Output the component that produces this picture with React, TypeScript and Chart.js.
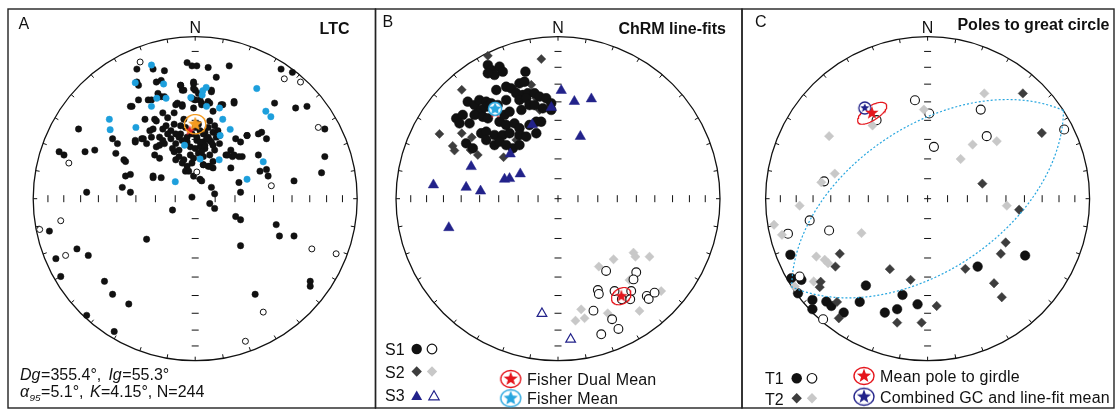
import React, { useEffect, useRef } from "react";
import { Chart, registerables } from "chart.js";

Chart.register(...registerables);

type XY = [number, number];
type Dir = { dec: number; inc: number };

// ---------------- data (projected equal-area coordinates, net radius = 100) ----------------
// Panel A: LTC
const A_MEAN = { dec: 355.4, inc: 55.3, a95: 5.1, k: 4.15, n: 244 };
const A_ALT_MEAN = { dec: 0, inc: 52, a95: 5.1 };
const A_BLACK: XY[] = [
  [-5, 84], [-2, 82], [1, 82], [8, 81], [21, 82], [-36, 80], [-26, 80], [-19, 79], [13, 75], [-24, 72],
  [-21, 73], [-9, 70], [-1, 72], [-8, 67], [0, 67], [2, 65], [10, 67], [-21, 63], [-35, 61], [-29, 61],
  [-39, 57], [3, 61], [4, 58], [8, 60], [24, 60], [49, 59], [69, 57], [62, 56], [-12, 58], [-8, 57],
  [-1, 56], [11, 54], [16, 58], [-20, 53], [-13, 53], [-31, 49], [-25, 49], [-72, 43], [80, 43], [32, 39],
  [39, 40], [41, 41], [44, 37], [25, 37], [-51, 37], [-48, 34], [-37, 35], [-33, 37], [-27, 38], [-84, 29],
  [-81, 27], [-68, 29], [-62, 30], [-49, 28], [-43, 23], [-25, 27], [-22, 25], [-12, 24], [-10, 26], [-8, 22],
  [-5, 20], [3, 28], [19, 27], [23, 26], [29, 26], [39, 27], [22, 30], [40, 17], [45, 14], [61, 11],
  [78, 16], [80, 26], [-43, 14], [-26, 13], [-21, 13], [-6, 17], [4, 11], [5, 21], [8, 20], [11, 19],
  [10, 7], [12, 3], [27, 10], [28, 4], [-2, 1], [-45, 7], [-40, 4], [-67, 4], [9, -3], [12, -6],
  [-14, -7], [25, -11], [28, -13], [28, -29], [50, -16], [52, -23], [61, -23], [-90, -20], [-30, -25], [-73, -31],
  [-66, -35], [-86, -37], [-83, -48], [-56, -51], [-51, -59], [-41, -65], [-67, -72], [-50, -82], [37, -59], [71, -51],
  [71, -54], [53, 80], [60, 78],
  [-24, 48], [-17, 50], [-13, 46], [-7, 49], [9, 48], [12, 45], [-26, 43], [-20, 43], [-15, 42], [-12, 40],
  [-9, 40], [-5, 38], [6, 41], [11, 41], [8, 38], [15, 39], [-37, 36], [-32, 37], [-22, 38], [-15, 37],
  [-10, 38], [1, 36], [5, 35], [9, 36], [3, 32], [6, 31], [11, 33], [-22, 33], [-19, 34], [-3, 32],
  [32, 39], [28, 35], [-13, 29], [2, 28], [5, 26], [20, 27], [24, 27], [27, 26], [-7, 24], [-2, 22],
  [5, 21], [9, 20], [-4, 17], [-1, 14], [3, 12], [44, 18], [22, 19], [-44, 24], [-40, 15], [-26, 14],
  [0, 44], [3, 42], [5, 40], [-2, 40], [8, 44], [2, 46], [-6, 44], [10, 35], [12, 30], [4, 29],
  [0, 31], [-8, 36], [-12, 34], [-14, 31], [-10, 30], [6, 33], [9, 27], [-3, 27], [13, 38], [15, 34],
  [-20, 36], [-24, 32], [-17, 40], [-28, 42], [-30, 34], [1, 38], [-5, 35], [7, 37], [3, 35], [-1, 25],
  [11, 23], [-9, 45], [-18, 45], [14, 42],
  [-36, 72], [-35, 70], [-9, 70], [-7, 67], [-1, 71], [-1, 68], [10, 66], [-23, 65], [-19, 63], [-27, 61],
  [-11, 59], [-8, 58], [-2, 62], [0, 61], [4, 59], [9, 59], [17, 58], [-40, 57], [24, 59],
];
const A_BLUE: XY[] = [
  [-27, 82.5], [-37, 71.6], [-19.5, 70.8], [-23.7, 62], [-18, 62], [-27, 57], [4.7, 66.7], [6.8, 68.7], [4.3, 64],
  [-2.7, 62.5], [38, 68], [15, 56], [7, 57], [-53, 49], [-52.5, 42.6], [-36.6, 44], [17, 49], [21.6, 42.8],
  [15.4, 39], [43.6, 54], [46.7, 50.6], [-6.6, 33], [3, 24.5], [14.8, 24], [42, 22.8], [32, 12], [-12.3, 10.5],
];
const A_OPEN: XY[] = [
  [-34, 84.4], [55, 74], [65, 72], [76, 44], [-78, 22], [1, 16.5], [47, 8], [-83, -13.6], [-96, -19],
  [-80, -35], [72, -31], [87, -34], [42, -70], [31, -88],
];

// Panel B: ChRM line-fits
const B_S1_FILLED: XY[] = [
  [-43.3, 82.5], [-41.2, 79.4], [-36.1, 81.5], [-34.1, 78.4], [-39.2, 76.4], [-43.3, 77.4], [-20.1, 78.4],
  [-23.8, 71.2], [-20.7, 72.2], [-38.1, 67.1], [-32, 69.1], [-28.9, 68.1], [-25.8, 65.1], [-21.7, 64],
  [-18.6, 65.1], [-14.5, 65.1], [-11.4, 63], [-7.3, 62], [-4.2, 58.9], [-4.2, 54.8], [-9.4, 55.8],
  [-23.8, 60.9], [-19.6, 62], [-17.6, 57.8], [-14.5, 57.8], [-22.6, 54.8], [-55.7, 59.9], [-51.5, 57.8],
  [-48.5, 60.9], [-44.3, 59.9], [-44.3, 56.8], [-47.4, 54.8], [-49.5, 52.7], [-41.2, 58.9], [-37.2, 57.8],
  [-32, 60.9], [-62.8, 49.6], [-58.8, 51.7], [-60.8, 46.5], [-54.6, 46.5], [-51.5, 51.7], [-46.4, 50.6],
  [-43.3, 49.6], [-36.1, 47.5], [-33, 51.7], [-29.9, 53.7], [-32, 45.5], [-26.9, 46.5], [-23.8, 43.5],
  [-17.6, 45.5], [-13.4, 47.5], [-10.4, 47.5], [-47.4, 40.4], [-44.3, 41.4], [-39.2, 39.3], [-34.1, 39.3],
  [-29.9, 40.4], [-23.8, 39.3], [-19.6, 38.3], [-13.4, 40.4], [-56.7, 34.2], [-52.6, 31.1], [-44.3, 36.2],
  [-39.2, 33.1], [-36.1, 35.2], [-32, 33.1], [-27.9, 31.1], [-23.8, 33.1],
];
const B_S1_OPEN: XY[] = [
  [29.7, -44.6], [48.3, -45.4], [46.6, -49.8], [24.6, -56.4], [25.2, -58.8], [34.9, -57], [45.2, -57],
  [39.4, -62.1], [44.6, -62.1], [54.8, -60], [56, -61.9], [59.6, -58], [21.9, -69.1], [33.4, -74.4],
  [37.3, -80.4], [26.7, -83.7],
];
const B_S2_DARK: XY[] = [
  [-43.3, 88.2], [-10.3, 86.2], [-59.4, 67.2], [-16.5, 70.3], [-13.4, 62], [-11.3, 54.8], [-73.2, 40],
  [-59.4, 40.4], [-53.2, 37.9], [-65, 32.6], [-63.9, 29.7], [-54, 30.1], [-49.5, 27], [-33.6, 25.6],
  [-25.8, 36.3], [-22.7, 40.4], [-26.8, 67.2], [-34, 46.6],
];
const B_S2_LIGHT: XY[] = [
  [34.3, -37.4], [46.6, -33.3], [47.8, -35.8], [56.5, -35.8], [25.2, -41.9], [44.1, -50.2], [63.7, -57],
  [50.3, -69.3], [30.7, -70.7], [14.3, -68.3], [10.8, -75.3], [16.4, -73.8],
];
const B_S3_FILLED: XY[] = [
  [2, 66.8], [10.1, 60], [20.6, 61.6], [-4.1, 56.3], [-15.9, 45.6], [13.8, 38.4], [-29.5, 27.6],
  [-53.6, 19.8], [-23.3, 15.3], [-33, 12], [-29.9, 12.4], [-76.9, 8.5], [-56.7, 7], [-47.8, 4.7], [-67.4, -17.9],
];
const B_S3_OPEN: XY[] = [[-9.9, -70.9], [7.8, -86.8]];
const B_DUAL_MEAN_N: Dir = { dec: 324, inc: 34.4 };
const B_DUAL_MEAN_R = { dec: 147, inc: 29, a95: 4.5 };
const B_FISHER_MEAN: Dir = { dec: 325, inc: 32.8 };

// Panel C: poles to great circle
const C_T1_FILLED: XY[] = [
  [-84.7, -34.6], [-84.1, -49.1], [-77.9, -50.1], [-80, -58.4], [-71.1, -62.5], [-71.1, -68.2], [-62.5, -63.5],
  [-59.4, -66.2], [-51.8, -70.3], [-41.9, -63.7], [-38.1, -53.6], [-26.4, -70.3], [-18.8, -68.2], [-15.5, -59.4],
  [-6.2, -65.2], [30.9, -41.9], [60.2, -35.1],
];
const C_T1_OPEN: XY[] = [
  [-7.8, 60.8], [1, 52.6], [32.8, 55], [36.5, 38.6], [3.9, 32], [84.3, 42.7], [-31.5, 48.5], [-63.9, 10.7],
  [-72.8, -13.4], [-60.8, -19.6], [-86.2, -21.6], [-79, -48], [-64.5, -74.4],
];
const C_T2_DARK: XY[] = [
  [58.8, 65], [70.5, 40.6], [33.8, 9.3], [56.5, -6.8], [48.2, -27], [45.2, -34], [23.3, -43.3], [41, -52.2],
  [45.8, -60.8], [5.6, -66.2], [-3.7, -76.5], [-18.8, -76.5], [-10.5, -50.1], [-23.3, -43.5], [-54.2, -34],
  [-56.9, -41.9], [-66, -51.3], [-66.6, -54.6], [-55.9, -63.7], [-54.8, -73.8],
];
const C_T2_LIGHT: XY[] = [
  [35, 65], [-2.3, 55], [-34, 45.2], [-60.8, 38.6], [27.8, 33.4], [42.7, 35.5], [20.4, 24.5], [-57.3, 15.5],
  [-65.6, 10.1], [-79, -4.3], [-94.8, -16.1], [-89.9, -22.3], [-40.8, -21.2], [48.9, -4.3], [-68.7, -35.7],
  [-63.5, -37.7], [-61.4, -39.8], [-70.3, -51.1], [-82, -54.2],
];
const C_GIRDLE_POLE = { dec: 327, inc: 37, major: 7.5, minor: 4 };
const C_COMBINED_MEAN: Dir = { dec: 325.3, inc: 32.4 };

const INC_TICKS = [10, 20, 30, 40, 50, 60, 70, 80];
const DEC_TICK_STEP = 10;

const TITLES = ["LTC", "ChRM line-fits", "Poles to great circle"];
const LABELS = ["A", "B", "C"];
const B_LEGEND_ROWS = ["S1", "S2", "S3"];
const B_LEGEND_MEANS = ["Fisher Dual Mean", "Fisher Mean"];
const C_LEGEND_ROWS = ["T1", "T2"];
const C_LEGEND_MEANS = ["Mean pole to girdle", "Combined GC and line-fit mean"];

// ---------------- styling ----------------
const FONT = "'Liberation Sans', Arial, Helvetica, sans-serif";
const INK = "#111111";
const BLUE = "#1d9fdc";
const NAVY = "#22228a";
const DARK = "#3d3d3d";
const LIGHT = "#c8c8c8";
const RED = "#e5161d";
const ORANGE = "#f39a1f";
const CYAN = "#27a6df";

const NET = 100;
const NET_R = 162;
const NET_CY = 198.7;
const CANVAS_TOP = 8;
const CANVAS_H = 402;
const FRAME_X = [8, 375.5, 742, 1114];
const FRAME_TOP = 9;
const FRAME_BOTTOM = 408;

// ---------------- projection helpers ----------------
const DEG = Math.PI / 180;
function eqArea(dec: number, inc: number) {
  const r = NET * Math.SQRT2 * Math.sin(((90 - Math.abs(inc)) / 2) * DEG);
  return { x: r * Math.sin(dec * DEG), y: r * Math.cos(dec * DEG) };
}
function vec(dec: number, inc: number) {
  return [Math.cos(inc * DEG) * Math.cos(dec * DEG), Math.cos(inc * DEG) * Math.sin(dec * DEG), Math.sin(inc * DEG)];
}
function dirOf(v: number[]): Dir {
  return { dec: Math.atan2(v[1], v[0]) / DEG, inc: Math.atan2(v[2], Math.hypot(v[0], v[1])) / DEG };
}
function coneLine(dec: number, inc: number, a: number, b: number, steps = 120) {
  const m = vec(dec, inc);
  const d = dec * DEG, i = inc * DEG;
  const e1 = [-Math.sin(d), Math.cos(d), 0];
  const e2 = [-Math.sin(i) * Math.cos(d), -Math.sin(i) * Math.sin(d), Math.cos(i)];
  const out: { x: number; y: number }[] = [];
  for (let k = 0; k <= steps; k++) {
    const t = (2 * Math.PI * k) / steps;
    const wa = a * DEG * Math.cos(t), wb = b * DEG * Math.sin(t);
    const th = Math.hypot(wa, wb);
    const p = [0, 1, 2].map((j) => Math.cos(th) * m[j] + (Math.sin(th) * (wa * e1[j] + wb * e2[j])) / th);
    const o = dirOf(p);
    out.push(eqArea(o.dec, o.inc));
  }
  return out;
}
function greatCircleLine(poleDec: number, poleInc: number, steps = 360) {
  const n = vec(poleDec, poleInc);
  const d = poleDec * DEG;
  const a = [-Math.sin(d), Math.cos(d), 0];
  const b = [n[1] * a[2] - n[2] * a[1], n[2] * a[0] - n[0] * a[2], n[0] * a[1] - n[1] * a[0]];
  const out: { x: number; y: number }[] = [];
  for (let k = 0; k <= steps; k++) {
    const t = (2 * Math.PI * k) / steps;
    const v = [0, 1, 2].map((j) => Math.cos(t) * a[j] + Math.sin(t) * b[j]);
    const o = dirOf(v);
    out.push(eqArea(o.dec, o.inc));
  }
  return out;
}

// ---------------- marker images ----------------
function starPath(ctx: CanvasRenderingContext2D, cx: number, cy: number, ro: number, ri: number) {
  ctx.beginPath();
  for (let k = 0; k < 10; k++) {
    const r = k % 2 === 0 ? ro : ri;
    const ang = -Math.PI / 2 + (k * Math.PI) / 5;
    const px = cx + r * Math.cos(ang), py = cy + r * Math.sin(ang);
    if (k === 0) ctx.moveTo(px, py);
    else ctx.lineTo(px, py);
  }
  ctx.closePath();
}
function starImage(fill: string, ro: number, ri: number, ring?: { color: string; rx: number; ry: number; lw: number }) {
  const half = Math.ceil(Math.max(ro, ring ? Math.max(ring.rx, ring.ry) + ring.lw : 0)) + 2;
  const c = document.createElement("canvas");
  c.width = half * 2;
  c.height = half * 2;
  const ctx = c.getContext("2d")!;
  if (ring) {
    ctx.beginPath();
    ctx.ellipse(half, half, ring.rx, ring.ry, 0, 0, Math.PI * 2);
    ctx.fillStyle = "#ffffff";
    ctx.fill();
    ctx.lineWidth = ring.lw;
    ctx.strokeStyle = ring.color;
    ctx.stroke();
  }
  starPath(ctx, half, half, ro, ri);
  ctx.fillStyle = fill;
  ctx.fill();
  return c;
}

// ---------------- dataset builders ----------------
const pts = (arr: XY[]) => arr.map(([x, y]) => ({ x, y }));
function markers(data: XY[], style: string, radius: number, fill: string, stroke: string, bw: number) {
  return {
    data: pts(data), showLine: false, pointStyle: style, pointRadius: radius, pointBackgroundColor: fill,
    pointBorderColor: stroke, pointBorderWidth: bw, clip: false,
  };
}
function lineDs(points: { x: number; y: number }[], color: string, width: number, dash: number[] = []) {
  return {
    data: points, showLine: true, pointRadius: 0, borderColor: color, borderWidth: width, borderDash: dash,
    fill: false, tension: 0, clip: false,
  };
}
function iconDs(dirs: Dir[], img: HTMLCanvasElement) {
  return { data: dirs.map((d) => eqArea(d.dec, d.inc)), showLine: false, pointStyle: img, pointRadius: 6, clip: false };
}

// ---------------- drawing helpers ----------------
type Seg = { t: string; it?: boolean; sub?: boolean };
function drawRich(ctx: CanvasRenderingContext2D, segs: Seg[], x: number, y: number, size: number) {
  let cx = x;
  for (const s of segs) {
    const fs = s.sub ? size * 0.62 : size;
    ctx.font = `${s.it ? "italic " : ""}${fs}px ${FONT}`;
    ctx.fillText(s.t, cx, y + (s.sub ? size * 0.22 : 0));
    cx += ctx.measureText(s.t).width + (s.t.length * 0.3);
  }
}
function text(ctx: CanvasRenderingContext2D, t: string, x: number, y: number, size: number, opts: { bold?: boolean; align?: CanvasTextAlign; spacing?: number } = {}) {
  ctx.font = `${opts.bold ? "bold " : ""}${size}px ${FONT}`;
  ctx.textAlign = opts.align || "left";
  (ctx as any).letterSpacing = `${opts.spacing || 0}px`;
  ctx.fillStyle = INK;
  ctx.fillText(t, x, y);
  (ctx as any).letterSpacing = "0px";
  ctx.textAlign = "left";
}
function shape(ctx: CanvasRenderingContext2D, kind: string, x: number, y: number, r: number, fill: string, stroke: string, lw: number) {
  ctx.beginPath();
  if (kind === "circle") ctx.arc(x, y, r, 0, Math.PI * 2);
  else if (kind === "diamond") {
    ctx.moveTo(x, y - r); ctx.lineTo(x + r, y); ctx.lineTo(x, y + r); ctx.lineTo(x - r, y); ctx.closePath();
  } else if (kind === "triangle") {
    for (let k = 0; k < 3; k++) {
      const a = k * (2 * Math.PI / 3);
      const px = x + Math.sin(a) * r, py = y - Math.cos(a) * r;
      if (k === 0) ctx.moveTo(px, py); else ctx.lineTo(px, py);
    }
    ctx.closePath();
  }
  ctx.fillStyle = fill;
  ctx.fill();
  if (lw > 0) { ctx.lineWidth = lw; ctx.strokeStyle = stroke; ctx.stroke(); }
}

// ---------------- panels ----------------
type Panel = {
  idx: number; left: number; width: number; cx: number; plus: boolean;
  layers: any[];
  deco: (ctx: CanvasRenderingContext2D, ox: number, oy: number) => void;
};

function buildPanels(): Panel[] {
  const aStar = starImage(RED, 5.5, 2.3);
  const aOrange = starImage(ORANGE, 7.5, 3.4);
  const bRed = starImage(RED, 6.8, 2.8);
  const bCyan = starImage(CYAN, 6.2, 3.2, { color: CYAN, rx: 6.5, ry: 6.5, lw: 1.5 });
  const cRed = starImage(RED, 7, 2.9);
  const cNavy = starImage(NAVY, 4.8, 2.1, { color: NAVY, rx: 6, ry: 6, lw: 1.3 });
  const legRed = starImage(RED, 7.5, 3.1, { color: RED, rx: 10, ry: 8.5, lw: 1.4 });
  const legCyan = starImage(CYAN, 7.5, 3.4, { color: CYAN, rx: 10, ry: 8.5, lw: 1.4 });
  const legNavy = starImage(NAVY, 7.5, 3.1, { color: NAVY, rx: 10, ry: 8.5, lw: 1.4 });

  const A: Panel = {
    idx: 0, left: 6, width: 372, cx: 195.2, plus: false,
    layers: [
      markers(A_BLACK, "circle", 3.2, INK, INK, 0.5),
      markers(A_BLUE, "circle", 3.2, BLUE, BLUE, 0.5),
      markers(A_OPEN, "circle", 3, "#ffffff", INK, 1),
      iconDs([A_MEAN], aStar),
      lineDs(coneLine(A_ALT_MEAN.dec, A_ALT_MEAN.inc, A_ALT_MEAN.a95, A_ALT_MEAN.a95), ORANGE, 1.3),
      iconDs([A_ALT_MEAN], aOrange),
    ],
    deco: (ctx, ox, oy) => {
      ctx.fillStyle = INK;
      drawRich(ctx, [
        { t: "Dg", it: true }, { t: `=${A_MEAN.dec.toFixed(1)}°, ` }, { t: "Ig", it: true }, { t: `=${A_MEAN.inc.toFixed(1)}°` },
      ], 20 - ox, 380 - oy, 16);
      drawRich(ctx, [
        { t: "α", it: true }, { t: "95", it: true, sub: true }, { t: `=${A_MEAN.a95.toFixed(1)}°, ` }, { t: "K", it: true },
        { t: `=${A_MEAN.k.toFixed(2)}°, N=${A_MEAN.n}` },
      ], 20 - ox, 397 - oy, 16);
    },
  };

  const B: Panel = {
    idx: 1, left: 373, width: 372, cx: 558, plus: true,
    layers: [
      markers(B_S2_DARK, "rectRot", 4.5, DARK, DARK, 0.5),
      markers(B_S1_FILLED, "circle", 4.9, INK, INK, 0.5),
      markers(B_S3_FILLED, "triangle", 6, NAVY, NAVY, 0.5),
      markers(B_S3_OPEN, "triangle", 5.6, "#ffffff", NAVY, 1.2),
      markers(B_S2_LIGHT, "rectRot", 4.6, LIGHT, LIGHT, 0.5),
      markers(B_S1_OPEN, "circle", 4.4, "#ffffff", INK, 1.1),
      lineDs(coneLine(B_DUAL_MEAN_R.dec, B_DUAL_MEAN_R.inc, B_DUAL_MEAN_R.a95, B_DUAL_MEAN_R.a95), RED, 1.2),
      iconDs([B_DUAL_MEAN_R, B_DUAL_MEAN_N], bRed),
      iconDs([B_FISHER_MEAN], bCyan),
    ],
    deco: (ctx, ox, oy) => {
      const rowsY = [349, 371.5, 396];
      const baseY = [354.5, 377.5, 401];
      B_LEGEND_ROWS.forEach((t, i) => text(ctx, t, 385 - ox, baseY[i] - oy, 16));
      shape(ctx, "circle", 416.7 - ox, rowsY[0] - oy, 5.2, INK, INK, 0);
      shape(ctx, "circle", 432 - ox, rowsY[0] - oy, 4.8, "#fff", INK, 1.2);
      shape(ctx, "diamond", 416.7 - ox, rowsY[1] - oy, 5.2, DARK, DARK, 0);
      shape(ctx, "diamond", 432 - ox, rowsY[1] - oy, 5.2, LIGHT, LIGHT, 0);
      shape(ctx, "triangle", 416.7 - ox, rowsY[2] - oy + 0.8, 6.3, NAVY, NAVY, 0);
      shape(ctx, "triangle", 434 - ox, rowsY[2] - oy + 0.8, 6, "#fff", NAVY, 1.2);
      const icons = [legRed, legCyan];
      const iy = [379, 398.3];
      const ty = [385, 404];
      B_LEGEND_MEANS.forEach((t, i) => {
        ctx.drawImage(icons[i], 510.7 - ox - icons[i].width / 2, iy[i] - oy - icons[i].height / 2);
        text(ctx, t, 527 - ox, ty[i] - oy, 16, { spacing: 0.2 });
      });
    },
  };

  const C: Panel = {
    idx: 2, left: 740, width: 377, cx: 927.6, plus: true,
    layers: [
      markers(C_T1_FILLED, "circle", 4.8, INK, INK, 0.5),
      markers(C_T1_OPEN, "circle", 4.5, "#ffffff", INK, 1.1),
      markers(C_T2_LIGHT, "rectRot", 4.7, LIGHT, LIGHT, 0.5),
      markers(C_T2_DARK, "rectRot", 4.7, DARK, DARK, 0.5),
      lineDs(greatCircleLine(C_GIRDLE_POLE.dec, C_GIRDLE_POLE.inc), CYAN, 1.2, [2, 2]),
      lineDs(coneLine(C_GIRDLE_POLE.dec, C_GIRDLE_POLE.inc, C_GIRDLE_POLE.major, C_GIRDLE_POLE.minor), RED, 1.2),
      iconDs([C_COMBINED_MEAN], cNavy),
      iconDs([C_GIRDLE_POLE], cRed),
    ],
    deco: (ctx, ox, oy) => {
      const rowsY = [378.3, 398.3];
      const baseY = [384, 404.5];
      C_LEGEND_ROWS.forEach((t, i) => text(ctx, t, 765 - ox, baseY[i] - oy, 16));
      shape(ctx, "circle", 796.7 - ox, rowsY[0] - oy, 5.2, INK, INK, 0);
      shape(ctx, "circle", 812 - ox, rowsY[0] - oy, 4.8, "#fff", INK, 1.2);
      shape(ctx, "diamond", 796.7 - ox, rowsY[1] - oy, 5.2, DARK, DARK, 0);
      shape(ctx, "diamond", 812 - ox, rowsY[1] - oy, 5.2, LIGHT, LIGHT, 0);
      const icons = [legRed, legNavy];
      const iy = [376, 396.7];
      const ty = [382, 403];
      C_LEGEND_MEANS.forEach((t, i) => {
        ctx.drawImage(icons[i], 864 - ox - icons[i].width / 2, iy[i] - oy - icons[i].height / 2);
        text(ctx, t, 880 - ox, ty[i] - oy, 16, { spacing: 0.2 });
      });
    },
  };
  return [A, B, C];
}

const LABEL_POS: XY[] = [[18.5, 28.5], [382.5, 27], [755, 27]];
const TITLE_POS: XY[] = [[349.5, 33.5], [726, 33.5], [1109.5, 29.5]];

function netPlugin(panel: Panel) {
  return {
    id: "net" + panel.idx,
    beforeDatasetsDraw(chart: any) {
      const { ctx, scales } = chart;
      const sx = scales.x, sy = scales.y;
      const cx = sx.getPixelForValue(0), cy = sy.getPixelForValue(0);
      const R = sx.getPixelForValue(NET) - cx;
      ctx.save();
      ctx.strokeStyle = INK;
      ctx.lineWidth = 1.3;
      ctx.beginPath();
      ctx.arc(cx, cy, R, 0, Math.PI * 2);
      ctx.stroke();
      ctx.lineWidth = 1;
      ctx.beginPath();
      for (let d = 0; d < 360; d += DEC_TICK_STEP) {
        const a = d * DEG;
        ctx.moveTo(cx + Math.sin(a) * R, cy - Math.cos(a) * R);
        ctx.lineTo(cx + Math.sin(a) * (R - 4), cy - Math.cos(a) * (R - 4));
      }
      for (const inc of INC_TICKS) {
        const p = eqArea(90, inc).x;
        for (const s of [-1, 1]) {
          const px = sx.getPixelForValue(s * p);
          ctx.moveTo(px, cy - 3.5); ctx.lineTo(px, cy + 3.5);
          const py = sy.getPixelForValue(s * p);
          ctx.moveTo(cx - 3.5, py); ctx.lineTo(cx + 3.5, py);
        }
      }
      if (panel.plus) {
        ctx.moveTo(cx - 3.5, cy); ctx.lineTo(cx + 3.5, cy);
        ctx.moveTo(cx, cy - 3.5); ctx.lineTo(cx, cy + 3.5);
      }
      ctx.stroke();
      ctx.restore();
    },
    afterDraw(chart: any) {
      const { ctx } = chart;
      const ox = panel.left, oy = CANVAS_TOP;
      ctx.save();
      ctx.strokeStyle = "#222";
      ctx.lineWidth = 1.4;
      ctx.strokeRect(FRAME_X[panel.idx] - ox, FRAME_TOP - oy, FRAME_X[panel.idx + 1] - FRAME_X[panel.idx], FRAME_BOTTOM - FRAME_TOP);
      const cx = chart.scales.x.getPixelForValue(0);
      text(ctx, "N", cx, 32.5 - oy, 16, { align: "center" });
      text(ctx, LABELS[panel.idx], LABEL_POS[panel.idx][0] - ox, LABEL_POS[panel.idx][1] - oy, 16);
      text(ctx, TITLES[panel.idx], TITLE_POS[panel.idx][0] - ox, TITLE_POS[panel.idx][1] - oy, 16, { bold: true, align: "right" });
      panel.deco(ctx, ox, oy);
      ctx.restore();
    },
  };
}

function PanelChart({ panel }: { panel: Panel }) {
  const ref = useRef<HTMLCanvasElement | null>(null);
  useEffect(() => {
    if (!ref.current) return;
    const padLeft = panel.cx - NET_R - panel.left;
    const padRight = panel.left + panel.width - (panel.cx + NET_R);
    const padTop = NET_CY - NET_R - CANVAS_TOP;
    const padBottom = CANVAS_TOP + CANVAS_H - (NET_CY + NET_R);
    const chart = new Chart(ref.current, {
      type: "scatter",
      data: { datasets: panel.layers.slice().reverse() as any },
      options: {
        animation: false,
        responsive: false,
        maintainAspectRatio: false,
        devicePixelRatio: 1,
        events: [],
        layout: { padding: { left: padLeft, right: padRight, top: padTop, bottom: padBottom } },
        plugins: { legend: { display: false }, tooltip: { enabled: false }, title: { display: false } },
        scales: {
          x: { type: "linear", min: -NET, max: NET, display: false },
          y: { type: "linear", min: -NET, max: NET, display: false },
        },
      },
      plugins: [netPlugin(panel) as any],
    });
    return () => chart.destroy();
  }, [panel]);
  return (
    <canvas
      ref={ref}
      width={panel.width}
      height={CANVAS_H}
      style={{ position: "absolute", left: panel.left, top: CANVAS_TOP, width: panel.width, height: CANVAS_H }}
    />
  );
}

const PANELS = buildPanels();

export default function App() {
  return (
    <div style={{ position: "absolute", left: 0, top: 0, width: 1117, height: 410, background: "#ffffff", overflow: "hidden" }}>
      {PANELS.map((p) => (
        <PanelChart key={p.idx} panel={p} />
      ))}
    </div>
  );
}
